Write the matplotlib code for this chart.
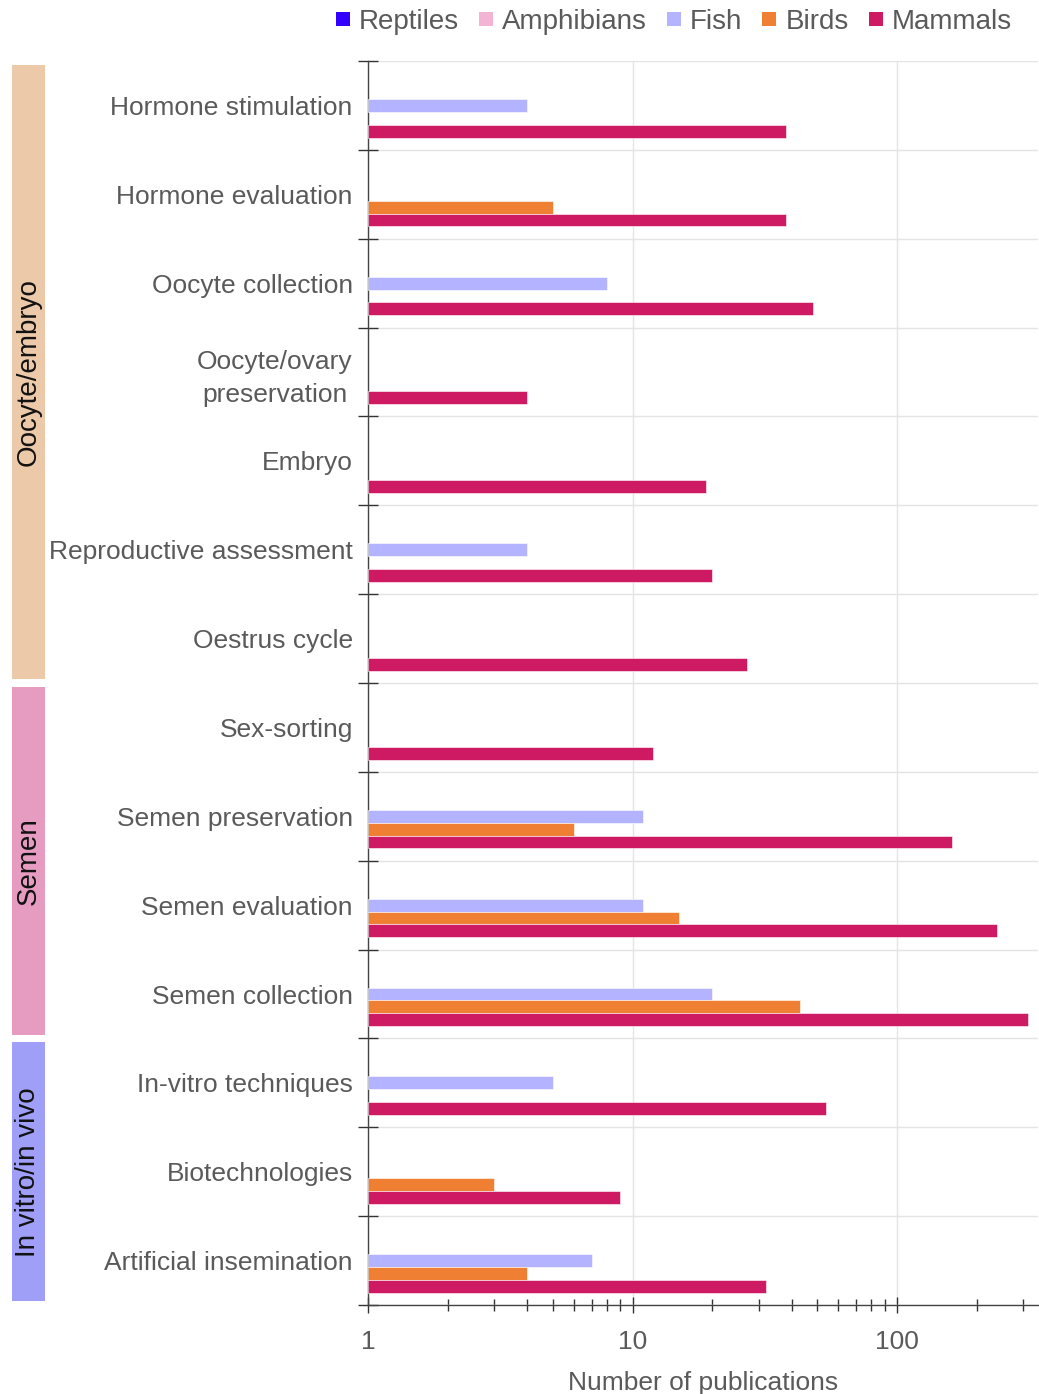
import matplotlib.pyplot as plt
import matplotlib.transforms as mtransforms
import numpy as np
from matplotlib.lines import Line2D
from matplotlib.patches import Rectangle

plt.rcParams["font.family"] = ["Liberation Sans", "DejaVu Sans"]

CATEGORIES = [
    "Hormone stimulation",
    "Hormone evaluation",
    "Oocyte collection",
    "Oocyte/ovary\npreservation",
    "Embryo",
    "Reproductive assessment",
    "Oestrus cycle",
    "Sex-sorting",
    "Semen preservation",
    "Semen evaluation",
    "Semen collection",
    "In-vitro techniques",
    "Biotechnologies",
    "Artificial insemination",
]

SERIES = ["Reptiles", "Amphibians", "Fish", "Birds", "Mammals"]
COLORS = ["#3300ff", "#f2b3d5", "#b3b3ff", "#ee7f33", "#cd1a63"]

# publication counts per category (0 = none)
REPTILES = [0, 0, 0, 0, 0, 0, 0, 0, 0, 0, 0, 0, 0, 0]
AMPHIBIANS = [0, 0, 0, 0, 0, 0, 0, 0, 0, 0, 0, 0, 0, 0]
FISH = [4, 0, 8, 0, 0, 4, 0, 0, 11, 11, 20, 5, 0, 7]
BIRDS = [0, 5, 0, 0, 0, 0, 0, 0, 6, 15, 43, 0, 3, 4]
MAMMALS = [38, 38, 48, 4, 19, 20, 27, 12, 161, 239, 313, 54, 9, 32]

GROUPS = ["Oocyte/embryo", "Semen", "In vitro/in vivo"]
GROUP_SPANS = [(0, 6), (7, 10), (11, 13)]
GROUP_COLORS = ["#ebc9a9", "#e69cc1", "#9f9ff8"]

TEXT_GRAY = "#5a5a5a"
GRID_GRAY = "#e4e4e4"

W, H = 1039, 1394
fig = plt.figure(figsize=(W / 100, H / 100), dpi=100)
ax = fig.add_axes([368 / W, 1 - 1305 / H, (1038 - 368) / W, (1305 - 61) / H])

slot = 0.145
y = np.arange(len(CATEGORIES))
for i, (name, values, color) in enumerate(
    zip(SERIES, [REPTILES, AMPHIBIANS, FISH, BIRDS, MAMMALS], COLORS)
):
    values = np.asarray(values, dtype=float)
    mask = values > 0
    ax.barh(
        y[mask] + (i - 2) * slot,
        values[mask] - 1,
        left=1,
        height=slot,
        color=color,
        edgecolor="white",
        linewidth=0.4,
        zorder=3,
    )

ax.set_xscale("log")
ax.set_xlim(1, 341)
ax.set_ylim(len(CATEGORIES) - 0.5, -0.5)

# category labels on major ticks, boundary marks on minor ticks
ax.set_yticks(y)
ax.set_yticklabels(CATEGORIES, fontsize=19, color=TEXT_GRAY,
                   multialignment="center", linespacing=1.45)
ax.set_yticks(np.arange(len(CATEGORIES) + 1) - 0.5, minor=True)
ax.tick_params(axis="y", which="major", length=0, pad=11)
ax.tick_params(axis="y", which="minor", direction="inout", length=14, width=1, color="#333333")

ax.set_xticks([1, 10, 100])
ax.set_xticklabels(["1", "10", "100"], fontsize=19, color=TEXT_GRAY)
ax.tick_params(axis="x", which="major", direction="inout", length=12, width=1, color="#333333", pad=12)
ax.tick_params(axis="x", which="minor", direction="inout", length=9, width=1, color="#333333")
ax.set_xlabel("Number of publications", fontsize=19, color=TEXT_GRAY, labelpad=12)

ax.grid(axis="x", which="major", color=GRID_GRAY, linewidth=1, zorder=0)
ax.grid(axis="y", which="minor", color=GRID_GRAY, linewidth=1, zorder=0)
ax.set_axisbelow(True)

for side in ("top", "right"):
    ax.spines[side].set_visible(False)
for side in ("left", "bottom"):
    ax.spines[side].set_color("#444444")
    ax.spines[side].set_linewidth(1)

# coloured group bands on the far left
band = mtransforms.blended_transform_factory(fig.transFigure, ax.transData)
inset = 0.04
for label, (start, end), color in zip(GROUPS, GROUP_SPANS, GROUP_COLORS):
    top = start - 0.5 + inset
    bottom = end + 0.5 - inset
    fig.add_artist(
        Rectangle((12 / W, top), 33 / W, bottom - top, transform=band,
                  facecolor=color, edgecolor="none", clip_on=False)
    )
    fig.text(28.5 / W, (start + end) / 2, label, transform=band, rotation=90,
             ha="center", va="center", fontsize=20, color="#111111")

handles = [
    Line2D([], [], marker="s", linestyle="none", markersize=10, color=c, markeredgewidth=0)
    for c in COLORS
]
fig.legend(
    handles, SERIES, loc="center right", bbox_to_anchor=(1012 / W, 1 - 22 / H),
    ncol=5, frameon=False, fontsize=20, labelcolor=TEXT_GRAY,
    handlelength=0.6, handletextpad=0.28, columnspacing=0.67,
    borderpad=0, borderaxespad=0,
)

fig.savefig("out.png", dpi=100)
